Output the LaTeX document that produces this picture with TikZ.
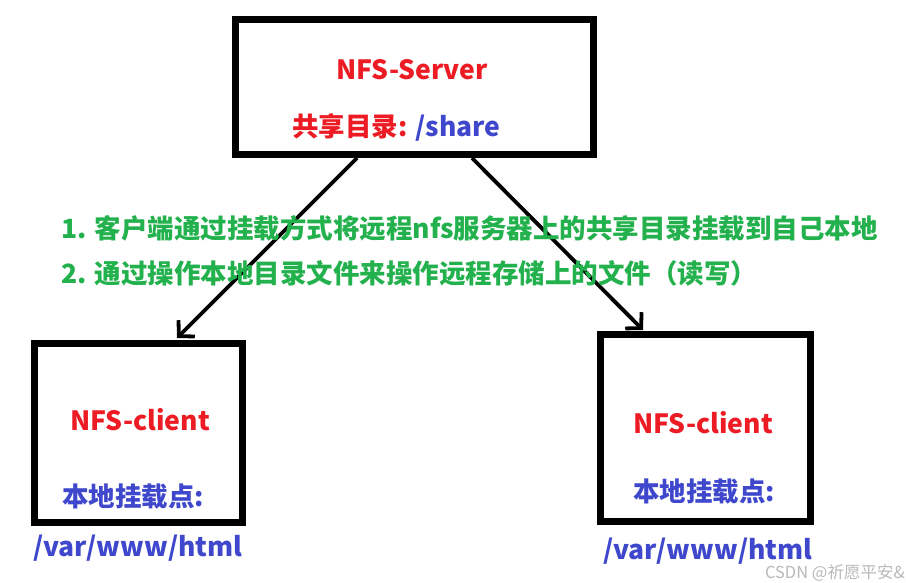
\documentclass[tikz,border=0pt]{standalone}
\usepackage{fontspec}
\setmainfont{Noto Sans CJK SC}
\usetikzlibrary{arrows.meta}
\definecolor{pred}{RGB}{237,28,36}
\definecolor{pblue}{RGB}{63,72,204}
\definecolor{pgreen}{RGB}{34,177,76}
\begin{document}
\begin{tikzpicture}[x=1pt,y=-1pt,
  boxstyle/.style={draw=black,line width=7pt,inner sep=0pt},
  arr/.style={line width=3.8pt,-{Straight Barb[length=11pt,width=23pt,line width=3.8pt]}},
  big/.style={font=\fontsize{26.5}{30}\selectfont\bfseries,inner sep=0pt},
  redtxt/.style={big,text=pred},
  bluetxt/.style={big,text=pblue},
  greentxt/.style={big,text=pgreen,anchor=west},
  wmtxt/.style={font=\fontsize{16.5}{18}\selectfont,text=gray!55,inner sep=0pt,anchor=east}]
\useasboundingbox[fill=white] (0,0) rectangle (906,583);
% boxes
\draw[boxstyle] (235,20) rectangle (593,155);
\coordinate (srvA) at (357,158);
\coordinate (srvB) at (472,158);
\draw[boxstyle] (34.5,343.5) rectangle (242,522.5);
\coordinate (cl1) at (177,338);
\draw[boxstyle] (600,334) rectangle (810,521.5);
\coordinate (cl2) at (643,330);
% arrows
\draw[arr] (srvA) -- (cl1);
\draw[arr] (srvB) -- (cl2);
% server texts
\node[redtxt] (srvname) at (412,70) {NFS-Server};
\node[big,anchor=west] (srvdir) at (292,127) {\textcolor{pred}{共享目录:} \textcolor{pblue}{/share}};
% notes
\node[greentxt] (note1) at (61,228) {1. 客户端通过挂载方式将远程nfs服务器上的共享目录挂载到自己本地};
\node[greentxt] (note2) at (61,273) {2. 通过操作本地目录文件来操作远程存储上的文件（读写）};
% left client
\node[redtxt] (c1name) at (140,420) {NFS-client};
\node[bluetxt,anchor=west] (c1mp) at (62,497) {本地挂载点:};
\node[bluetxt,anchor=west] (c1path) at (33,548) {/var/www/html};
% right client
\node[redtxt] (c2name) at (703,423) {NFS-client};
\node[bluetxt,anchor=west] (c2mp) at (633,492) {本地挂载点:};
\node[bluetxt,anchor=west] (c2path) at (603,551) {/var/www/html};
% watermark
\node[wmtxt] (wm) at (905,573) {CSDN @祈愿平安\&};
\end{tikzpicture}
\end{document}
